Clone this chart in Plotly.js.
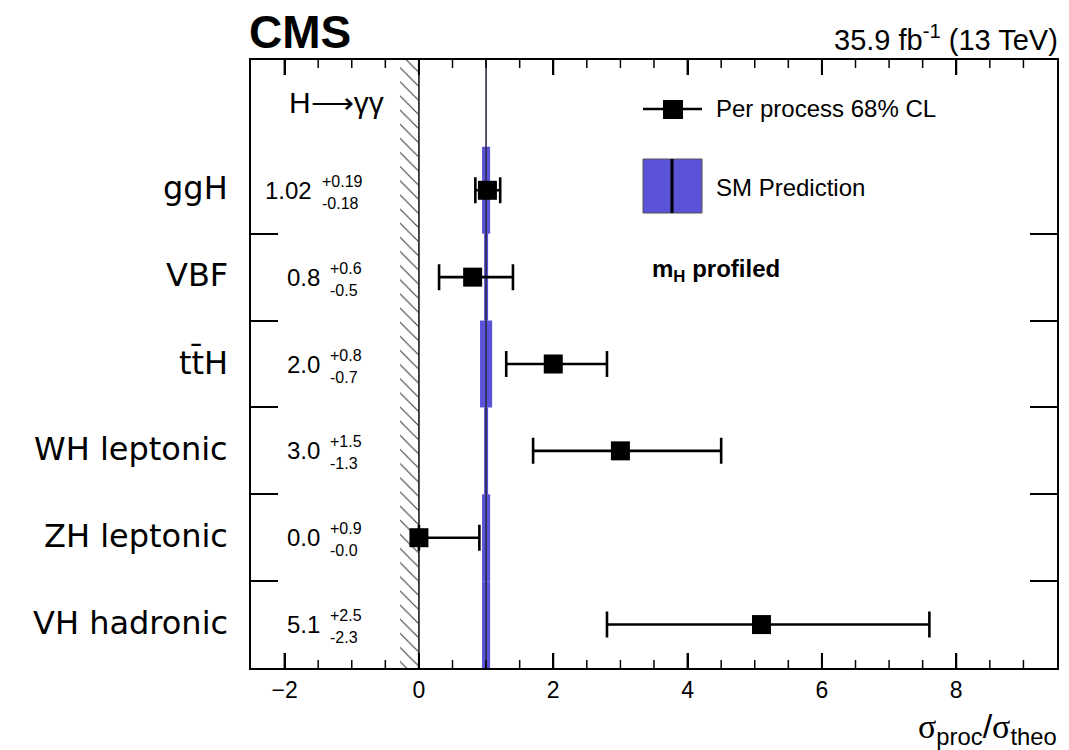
<!DOCTYPE html>
<html>
<head>
<meta charset="utf-8">
<script src="https://cdn.plot.ly/plotly-3.0.1.min.js"></script>
<style>
  html, body { margin: 0; padding: 0; background: #fff; }
  #plot { width: 1069px; height: 750px; }
</style>
</head>
<body>
<div id="plot"></div>
<script>
// Signal strength per production process, H -> gamma gamma
const categories = ['ggH', 'VBF', 'tt\u0304H', 'WH leptonic', 'ZH leptonic', 'VH hadronic'];
const mu         = [1.02, 0.8, 2.0, 3.0, 0.0, 5.1];
const errUp      = [0.19, 0.6, 0.8, 1.5, 0.9, 2.5];
const errDown    = [0.18, 0.5, 0.7, 1.3, 0.0, 2.3];
const decimals   = [2, 1, 1, 1, 1, 1];
// Theory uncertainty (half width) on the SM prediction, per process
const smUnc      = [0.06, 0.03, 0.09, 0.03, 0.06, 0.06];
const smValue    = 1.0;
const xMajorTicks = [-2, 0, 2, 4, 6, 8];
const xMinorStep  = 0.5;

const SANS = '"Liberation Sans", Arial, Helvetica, sans-serif';
const WIDE = '"DejaVu Sans", "Liberation Sans", sans-serif';

const W = 1069, H = 750;
const M = { l: 251, r: 12, t: 60, b: 82 };
const PW = W - M.l - M.r, PH = H - M.t - M.b;
const px2x = p => (p - M.l) / PW;
const px2y = p => (H - M.b - p) / PH;

const nCat = categories.length;
const nRows = nCat + 1;                       // one header row on top
const yPos = categories.map((_, i) => nCat - i - 0.5);
const xRange = [-2.5, 9.5];
const xMinorTicks = [];
for (let v = xRange[0] + xMinorStep; v < xRange[1] - 1e-9; v += xMinorStep) {
  if (!xMajorTicks.some(t => Math.abs(t - v) < 1e-9)) xMinorTicks.push(v);
}

// text width helper for laying out the stacked +/- labels
const ctx = document.createElement('canvas').getContext('2d');
function textWidth(txt, size) {
  ctx.font = size + 'px "Liberation Sans", Arial, sans-serif';
  return ctx.measureText(txt).width;
}

const traces = [];

// physical boundary: hatched strip left of zero
traces.push({
  type: 'scatter', mode: 'lines',
  x: [-0.28, 0, 0, -0.28, -0.28], y: [0, 0, nRows, nRows, 0],
  fill: 'toself', fillcolor: 'white',
  fillpattern: { shape: '\\', fgcolor: '#333', bgcolor: 'white', size: 10, solidity: 0.1 },
  line: { width: 0, color: 'rgba(0,0,0,0)' },
  hoverinfo: 'skip', showlegend: false
});

// SM prediction bands
traces.push({
  type: 'bar', orientation: 'h',
  y: yPos,
  x: smUnc.map(u => 2 * u),
  base: smUnc.map(u => smValue - u),
  width: yPos.map(() => 1),
  marker: { color: '#5a52d9', line: { width: 0 } },
  hoverinfo: 'skip', showlegend: false
});

// SM reference line
traces.push({
  type: 'scatter', mode: 'lines',
  x: [smValue, smValue], y: [0, nRows],
  line: { color: '#2a2a4a', width: 1.6 },
  hoverinfo: 'skip', showlegend: false
});

// zero line
traces.push({
  type: 'scatter', mode: 'lines',
  x: [0, 0], y: [0, nRows],
  line: { color: '#333', width: 1.8 },
  hoverinfo: 'skip', showlegend: false
});

// measured signal strengths
traces.push({
  type: 'scatter', mode: 'markers',
  x: mu, y: yPos,
  marker: { symbol: 'square', size: 19, color: 'black' },
  error_x: {
    type: 'data', symmetric: false,
    array: errUp, arrayminus: errDown,
    color: 'black', thickness: 2.6, width: 13
  },
  showlegend: false
});

const annotations = [];

// process names
categories.forEach((c, i) => {
  annotations.push({
    xref: 'paper', yref: 'y', x: 0, y: yPos[i],
    xanchor: 'right', yanchor: 'middle', xshift: -21, yshift: 2,
    text: c, showarrow: false,
    font: { family: WIDE, size: 32, color: 'black' }
  });
});

// best-fit values with asymmetric uncertainties
const groupRight = 360;
categories.forEach((c, i) => {
  const d = decimals[i];
  const main = mu[i].toFixed(d);
  const hi = '+' + errUp[i].toFixed(d);
  const lo = '-' + errDown[i].toFixed(d);
  const supW = Math.max(textWidth(hi, 16), textWidth(lo, 16));
  const supLeft = groupRight - supW;
  const mainRight = supLeft - 6;
  annotations.push({
    xref: 'paper', yref: 'y', x: 0, y: yPos[i],
    xanchor: 'right', yanchor: 'middle', xshift: mainRight - M.l,
    text: main, showarrow: false,
    font: { family: SANS, size: 24, color: 'black' }
  });
  annotations.push({
    xref: 'paper', yref: 'y', x: 0, y: yPos[i],
    xanchor: 'left', yanchor: 'middle', xshift: supLeft - M.l, yshift: 9,
    text: hi, showarrow: false,
    font: { family: SANS, size: 16, color: 'black' }
  });
  annotations.push({
    xref: 'paper', yref: 'y', x: 0, y: yPos[i],
    xanchor: 'left', yanchor: 'middle', xshift: supLeft - M.l, yshift: -13,
    text: lo, showarrow: false,
    font: { family: SANS, size: 16, color: 'black' }
  });
});

// decay channel header
annotations.push({
  xref: 'paper', yref: 'y', x: 0, y: nCat + 0.5,
  xanchor: 'center', yanchor: 'middle', xshift: 336 - M.l, yshift: 1,
  text: 'H\u27f6\u03b3\u03b3', showarrow: false,
  font: { family: SANS, size: 30, color: 'black' }
});

// legend texts
annotations.push({
  xref: 'paper', yref: 'paper', x: px2x(714), y: px2y(109),
  xanchor: 'left', yanchor: 'middle',
  text: 'Per process 68% CL', showarrow: false,
  font: { family: SANS, size: 24, color: 'black' }
});
annotations.push({
  xref: 'paper', yref: 'paper', x: px2x(714), y: px2y(187),
  xanchor: 'left', yanchor: 'middle',
  text: 'SM Prediction', showarrow: false,
  font: { family: SANS, size: 24, color: 'black' }
});
annotations.push({
  xref: 'paper', yref: 'paper', x: px2x(650), y: px2y(270),
  xanchor: 'left', yanchor: 'middle',
  text: '<b>m<sub>H</sub> profiled</b>', showarrow: false,
  font: { family: SANS, size: 24, color: 'black' }
});

// experiment label and luminosity
annotations.push({
  xref: 'paper', yref: 'paper', x: 0, y: 1,
  xanchor: 'left', yanchor: 'bottom', xshift: -4, yshift: 0,
  text: '<b>CMS</b>', showarrow: false,
  font: { family: SANS, size: 46, color: 'black' }
});
annotations.push({
  xref: 'paper', yref: 'paper', x: 1, y: 1,
  xanchor: 'right', yanchor: 'bottom', xshift: 3, yshift: 2,
  text: '35.9 fb<sup>-1</sup> (13 TeV)', showarrow: false,
  font: { family: SANS, size: 29, color: 'black' }
});

// x axis title
annotations.push({
  xref: 'paper', yref: 'paper', x: 1, y: 0,
  xanchor: 'right', yanchor: 'top', xshift: 2, yshift: -37,
  text: '<span style="font-family:Liberation Serif">\u03c3</span><sub>proc</sub>/<span style="font-family:Liberation Serif">\u03c3</span><sub>theo</sub>',
  showarrow: false,
  font: { family: SANS, size: 34, color: 'black' }
});

// legend glyphs
const shapes = [
  { type: 'line', xref: 'paper', yref: 'paper', x0: px2x(643), x1: px2x(702), y0: px2y(109), y1: px2y(109),
    line: { color: 'black', width: 2.6 } },
  { type: 'rect', xref: 'paper', yref: 'paper', x0: px2x(663), x1: px2x(683), y0: px2y(119), y1: px2y(100),
    fillcolor: 'black', line: { width: 0 } },
  { type: 'rect', xref: 'paper', yref: 'paper', x0: px2x(643), x1: px2x(702), y0: px2y(213), y1: px2y(159),
    fillcolor: '#5a52d9', line: { color: '#555', width: 1 } },
  { type: 'line', xref: 'paper', yref: 'paper', x0: px2x(672), x1: px2x(672), y0: px2y(213), y1: px2y(159),
    line: { color: 'black', width: 3 } }
];

// inside tick marks along the bottom and top frame, placed on the x scale
function addTicks(vals, lenPx, width) {
  const f = lenPx / PH;
  vals.forEach(v => {
    shapes.push({ type: 'line', xref: 'x', yref: 'paper', x0: v, x1: v, y0: 0, y1: f,
      line: { color: 'black', width: width }, layer: 'above' });
    shapes.push({ type: 'line', xref: 'x', yref: 'paper', x0: v, x1: v, y0: 1, y1: 1 - f,
      line: { color: 'black', width: width }, layer: 'above' });
  });
}
addTicks(xMajorTicks, 15, 2);
addTicks(xMinorTicks, 8, 1.5);

const layout = {
  width: W, height: H,
  margin: M,
  paper_bgcolor: 'white', plot_bgcolor: 'white',
  showlegend: false,
  barmode: 'overlay',
  xaxis: {
    range: xRange,
    tickmode: 'array', tickvals: xMajorTicks,
    ticks: 'inside', ticklen: 15, tickwidth: 2, tickcolor: 'black',
    showline: true, linewidth: 2, linecolor: 'black', mirror: 'ticks',
    showgrid: false, zeroline: false,
    tickfont: { family: SANS, size: 23, color: 'black' }
  },
  yaxis: {
    range: [0, nRows],
    tickvals: Array.from({ length: nCat - 1 }, (_, k) => k + 1),
    ticks: 'inside', ticklen: 27, tickwidth: 2, tickcolor: 'black',
    showticklabels: false,
    showline: true, linewidth: 2, linecolor: 'black', mirror: 'ticks',
    showgrid: false, zeroline: false
  },
  annotations: annotations,
  shapes: shapes
};

Plotly.newPlot('plot', traces, layout, { staticPlot: true, displayModeBar: false });
</script>
</body>
</html>
